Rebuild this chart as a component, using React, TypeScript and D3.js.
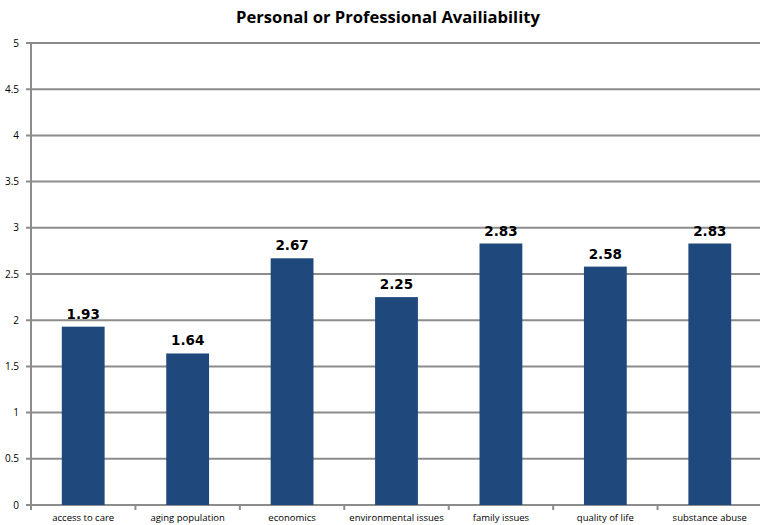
import React from "react";
import * as d3 from "d3";

const categories = [
  "access to care",
  "aging population",
  "economics",
  "environmental issues",
  "family issues",
  "quality of life",
  "substance abuse",
];
const values = [1.93, 1.64, 2.67, 2.25, 2.83, 2.58, 2.83];
const valueLabels = ["1.93", "1.64", "2.67", "2.25", "2.83", "2.58", "2.83"];
const yTicks = [0, 0.5, 1, 1.5, 2, 2.5, 3, 3.5, 4, 4.5, 5];
const title = "Personal or Professional Availiability";

export default function App() {
  const W = 760;
  const H = 525;
  const left = 31;
  const right = 762;
  const top = 43;
  const bottom = 505;
  const x = d3.scaleBand<string>().domain(categories).range([left, right]).paddingInner(0).paddingOuter(0);
  const y = d3.scaleLinear().domain([0, 5]).range([bottom, top]);
  const bw = x.bandwidth() * 0.41;
  const grid = "#8c8c8c";
  return (
    <svg width={W} height={H} style={{ position: "absolute", left: 0, top: 0, background: "#fff" }}>
      <text x={388} y={23} textAnchor="middle" fontFamily="'Open Sans', sans-serif" fontWeight="bold" fontSize={16.6} fill="#000">
        {title}
      </text>
      {yTicks.map((t) => (
        <g key={t}>
          <line x1={left - 5} x2={W} y1={y(t)} y2={y(t)} stroke={grid} strokeWidth={2} />
          <text x={left - 12} y={y(t) + 3.5} textAnchor="end" fontFamily="'Open Sans', sans-serif" fontSize={10} fill="#000">
            {t}
          </text>
        </g>
      ))}
      <line x1={left} x2={left} y1={top} y2={bottom} stroke={grid} strokeWidth={2} />
      {categories.map((c) => (
        <line key={c} x1={x(c)!} x2={x(c)!} y1={bottom} y2={bottom + 5} stroke={grid} strokeWidth={2} />
      ))}
      {categories.map((c, i) => {
        const cx = x(c)! + x.bandwidth() / 2;
        return (
          <g key={c}>
            <rect x={cx - bw / 2} y={y(values[i])} width={bw} height={bottom - y(values[i])} fill="#1f487c" />
            <text x={cx} y={y(values[i]) - 8} textAnchor="middle" fontFamily="'DejaVu Sans', Verdana, sans-serif" fontWeight="bold" fontSize={13.5} fill="#000">
              {valueLabels[i]}
            </text>
            <text x={cx} y={521} textAnchor="middle" fontFamily="'Open Sans', sans-serif" fontSize={9.5} fill="#000">
              {c}
            </text>
          </g>
        );
      })}
    </svg>
  );
}
